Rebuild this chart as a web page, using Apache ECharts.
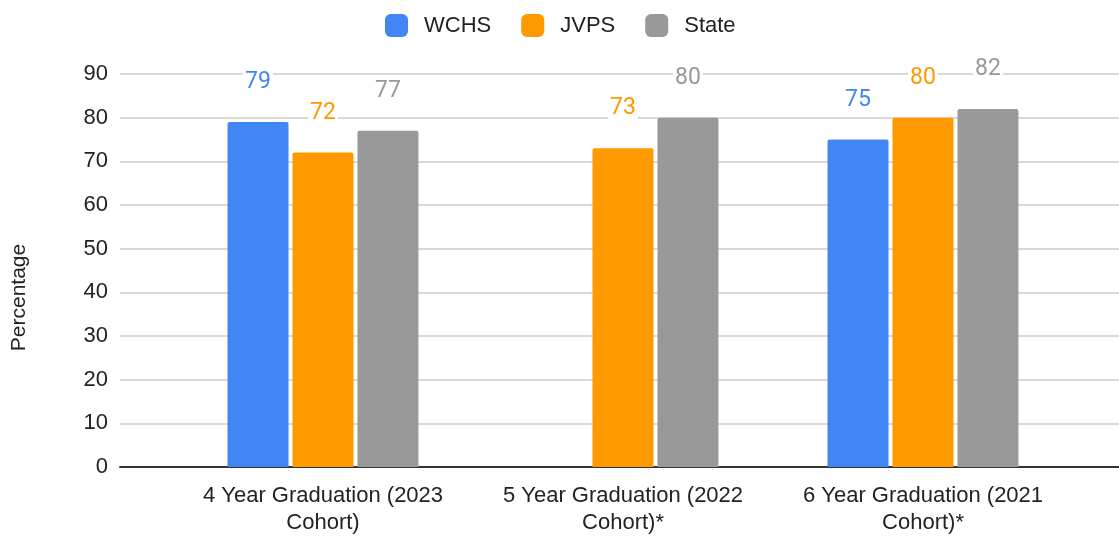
<!DOCTYPE html>
<html><head><meta charset="utf-8">
<script src="https://cdn.jsdelivr.net/npm/echarts@6/dist/echarts.min.js"></script>
<style>html,body{margin:0;padding:0;background:#fff}#c{width:1119px;height:537px}</style>
</head><body><div id="c"></div>
<script>
const categories = ['4 Year Graduation (2023\nCohort)', '5 Year Graduation (2022\nCohort)*', '6 Year Graduation (2021\nCohort)*'];
const wchs = [79, null, 75];
const jvps = [72, 73, 80];
const state = [77, 80, 82];
const yTicks = {min: 0, max: 90, interval: 10};

const colors = {WCHS: '#4285F4', JVPS: '#FF9900', State: '#999999'};
const chart = echarts.init(document.getElementById('c'));
function mk(name, data) {
  return {
    name, type: 'bar', data, xAxisIndex: 1, yAxisIndex: 1,
    barWidth: 61, barGap: '6.5%',
    itemStyle: {color: colors[name], borderRadius: [2,2,0,0]},
    label: {show: true, position: 'top', distance: 28, color: colors[name],
      fontFamily: 'Roboto', fontSize: 23, backgroundColor: '#fff', padding: [0,2]}
  };
}
chart.setOption({
  animation: false,
  legend: {top: 9, left: 380, itemWidth: 23, itemHeight: 23, itemGap: 30,
    icon: 'roundRect',
    textStyle: {fontFamily: 'Liberation Sans', fontSize: 22, color: '#222', padding: [0,0,0,11]},
    data: ['WCHS', 'JVPS', 'State']},
  grid: [
    {left: 120, right: 0, top: 74, bottom: 70},
    {left: 173, right: 46, top: 74, bottom: 70}
  ],
  xAxis: [
    {type: 'category', gridIndex: 0, data: [''], axisLabel: {show: false}, axisTick: {show: false},
      axisLine: {lineStyle: {color: '#333', width: 2}}},
    {type: 'category', gridIndex: 1, data: categories, axisTick: {show: false}, axisLine: {show: false},
      axisLabel: {interval: 0, hideOverlap: false, fontFamily: 'Liberation Sans', fontSize: 22, color: '#222', lineHeight: 27, margin: 15}}
  ],
  yAxis: [
    {type: 'value', gridIndex: 0, min: yTicks.min, max: yTicks.max, interval: yTicks.interval,
      name: 'Percentage', nameLocation: 'middle', nameGap: 90, nameRotate: 90,
      nameTextStyle: {fontFamily: 'Liberation Sans', fontSize: 21, color: '#222', padding: [0,0,0,-54]},
      axisLabel: {fontFamily: 'Liberation Sans', fontSize: 22, color: '#222', margin: 12},
      splitLine: {lineStyle: {color: '#cccccc', width: 1.5}}, axisLine: {show: false}, axisTick: {show: false}},
    {type: 'value', gridIndex: 1, min: yTicks.min, max: yTicks.max, interval: yTicks.interval,
      show: false, splitLine: {show: false}}
  ],
  series: [mk('WCHS', wchs), mk('JVPS', jvps), mk('State', state)]
});
</script></body></html>
